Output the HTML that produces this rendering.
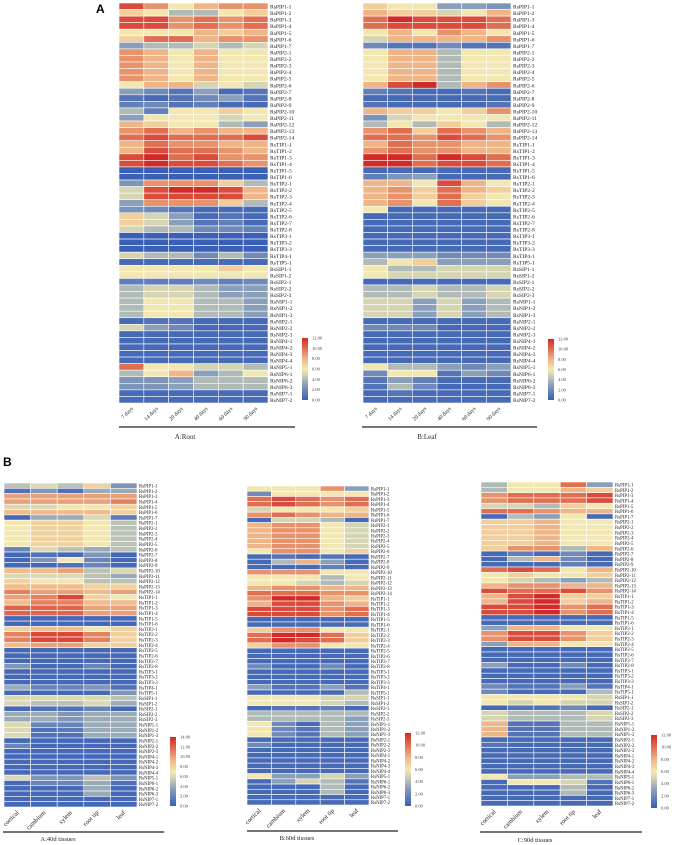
<!DOCTYPE html>
<html><head><meta charset="utf-8">
<style>
html,body{margin:0;padding:0;background:#fff;}
svg{display:block;font-family:"Liberation Serif",serif;}
</style></head>
<body>
<svg id="fig" width="675" height="845" viewBox="0 0 675 845" xmlns="http://www.w3.org/2000/svg">
<text x="96" y="13" font-family="Liberation Sans, sans-serif" font-weight="bold" font-size="12">A</text>
<text x="3" y="466" font-family="Liberation Sans, sans-serif" font-weight="bold" font-size="12">B</text>
<defs>
<linearGradient id="lg" x1="0" y1="1" x2="0" y2="0">
<stop offset="0" stop-color="#3a5fb6"/><stop offset="0.25" stop-color="#8a9fba"/><stop offset="0.42" stop-color="#d8d6b2"/><stop offset="0.5" stop-color="#f3e7b1"/><stop offset="0.67" stop-color="#efb486"/><stop offset="0.83" stop-color="#e06f52"/><stop offset="1" stop-color="#d22a27"/>
</linearGradient>
</defs>
</svg>
<script>
const genes=["RsPIP1-1","RsPIP1-2","RsPIP1-3","RsPIP1-4","RsPIP1-5","RsPIP1-6","RsPIP1-7","RsPIP2-1","RsPIP2-2","RsPIP2-3","RsPIP2-4","RsPIP2-5","RsPIP2-6","RsPIP2-7","RsPIP2-8","RsPIP2-9","RsPIP2-10","RsPIP2-11","RsPIP2-12","RsPIP2-13","RsPIP2-14","RsTIP1-1","RsTIP1-2","RsTIP1-3","RsTIP1-4","RsTIP1-5","RsTIP1-6","RsTIP2-1","RsTIP2-2","RsTIP2-3","RsTIP2-4","RsTIP2-5","RsTIP2-6","RsTIP2-7","RsTIP2-8","RsTIP3-1","RsTIP3-2","RsTIP3-3","RsTIP4-1","RsTIP5-1","RsSIP1-1","RsSIP1-2","RsSIP2-1","RsSIP2-2","RsSIP2-3","RsNIP1-1","RsNIP1-2","RsNIP1-3","RsNIP2-1","RsNIP2-2","RsNIP2-3","RsNIP4-1","RsNIP4-2","RsNIP4-3","RsNIP4-4","RsNIP5-1","RsNIP6-1","RsNIP6-2","RsNIP6-3","RsNIP7-1","RsNIP7-2"];
const days=["7 days","14 days","20 days","40 days","60 days","90 days"];
const tissues=["cortical","cambium","xylem","root tip","leaf"];
const ticks12=["12.00","10.00","8.00","6.00","4.00","2.00","0.00"];
const ticks14=["14.00","12.00","10.00","8.00","6.00","4.00","2.00","0.00"];
const z=0.5;
const rootVals=[[11,9,6,8,9,9],[7,6,4,4,6,7],[11,11,9,10,9,10],[11,11,9,10,9,10],[6,6,6,8,7,8],[7,10,10,8,9,9],[3,4,4,5,4,5],[9,8,6,8,6,6],[9,8,6,8,6,6],[9,8,6,8,6,6],[9,8,6,8,6,6],[9,8,6,8,6,6],[6,8,8,5,6,5],[3,2,1,3,z,1],[1,z,1,2,3,1],[1.5,2,1,1.5,z,z],[4,1.5,6,6,7,6],[3,6,6,6,5,6],[8,7,6,6,4,3],[9,10,8,9,8,8],[10,11,10,10,10,11],[8,10,9,9,8,8],[8,11,10,10,9,8],[11,12,10,11,9,9],[11,12,11,11,10,9],[0,0,0,0,0,0],[0,0,0,0,0,0],[2.5,9,9,9,7,4],[5,11,12,12,11,8],[5,11,11,11,11,8],[3,9,9,9,7,4],[2.5,2,1,z,z,z],[7,5,3,z,1,z],[7,5,3,1,1.5,z],[5,4,4,2,2,1.5],[0,0,0,0,0,0],[0,0,0,0,0,0],[0,0,0,0,0,0],[5,4,4,2,4,2],[z,z,z,z,z,z],[6,6,6,6,7,6],[6,6,6,6,6,6],[1.5,1.5,1.5,2,1.5,2],[4,5,5,4,3,3],[4,5,5,4,3,3],[4,6,6,4,4,3],[4,6,6,4,4,3],[4,6,6,4,4,3],[z,1,1,z,z,z],[5,3,2,z,z,z],[z,z,z,z,z,z],[z,z,z,z,z,z],[z,z,z,z,z,z],[z,z,z,z,z,z],[z,z,z,z,z,z],[10,6,6,5,5,4],[4,6,8,3,4,6],[2.5,2.5,3,4,4,4],[2.5,2.5,3,4,4,4],[z,z,z,z,z,z],[z,z,z,z,z,z]];
const leafVals=[[7,6,6,3,3,2.5],[8,7,7,5,6,8],[10,12,11,11,11,10],[10,11,11,11,11,10],[6,8,6,9,8,6],[5,8,8,8,8,9],[2,1,1,2,1,1],[6,8,8,4,6,6],[6,8,8,4,6,6],[6,8,8,4,6,6],[6,8,8,4,6,6],[6,8,8,4,6,6],[8,11,12,4,8,9],[1.5,1,z,z,1,z],[z,z,z,z,z,z],[1,z,z,z,z,1],[8,7,7,6,7,9],[2.5,5,6,6,6,6],[4,6,4,7,6,4],[9,10,7,10,9,8],[10,10,9,11,10,9],[8,10,9,9,8,8],[9,10,9,9,8,8],[12,12,10,12,11,10],[12,12,10,11,11,10],[z,z,z,z,z,z],[1.5,2.5,3,z,z,z],[8,8,6,11,8,6],[8,9,7,10,8,7],[8,9,7,10,7,6],[8,9,6,10,7,6],[6,z,z,z,z,z],[z,z,z,z,z,z],[z,z,z,z,z,z],[z,z,z,z,z,z],[z,z,z,z,z,z],[z,z,z,z,z,z],[z,z,z,z,z,z],[3,3,3,2,2,2],[4,6,7,3,3,3],[6,4,4,5,5,5],[6,5,5,5,5,5],[z,z,z,z,z,z],[4,4,5,4,4,5],[4,4,5,4,4,5],[5,5,3,5,3,4],[5,5,3,5,3,4],[5,5,3,5,3,4],[z,z,z,z,z,z],[2,2,2,z,z,z],[z,z,z,z,z,z],[z,z,z,z,z,z],[z,z,z,z,z,z],[z,z,z,z,z,z],[z,z,z,z,z,z],[6,4,4,3,2,3],[2,6,6,1,3,2],[1,3,1.5,z,z,z],[1,4,2,z,z,z],[z,1,z,z,z,z],[z,z,z,z,z,z]];
const t40Vals=[[5,6,5,8,3],[1,3,1,4,4],[10,10,10,10,10],[10,10,10,10,11],[6,6,7,7,8],[9,9,9,9,8],[z,4,4,6,1.5],[7,8,8,7,5],[7,8,8,7,5],[7,8,8,7,5],[7,8,8,7,5],[7,8,8,7,5],[2,6,5,4,5],[z,1,z,3,z],[z,3,7,2,z],[z,z,1,2,z],[9,9,10,5,6],[6,6,6,5,4],[8,7,7,5,5],[9,9,9,8,8],[11,10,10,9,10],[10,11,13,8,7],[9,11,11,9,9],[12,12,12,10,10],[12,12,12,10,10],[z,z,z,z,z],[z,z,z,z,z],[8,9,9,7,8],[11,13,13,11,8],[11,13,13,11,8],[9,10,10,8,8],[z,z,z,z,z],[z,z,z,z,z],[z,z,z,z,z],[3,z,z,2,z],[z,z,z,z,z],[z,z,z,z,z],[z,z,z,z,z],[4,2,2,3,1],[z,z,z,z,3],[6,6,6,6,5],[6,5,5,6,4],[z,1,1,2,z],[4,4,3,4,4],[4,4,3,4,4],[6,2,2,4,4],[6,1,1.5,4,4],[6,1,1,4,4],[z,z,z,z,z],[2,z,z,z,z],[z,z,z,z,z],[z,z,z,z,z],[z,z,z,z,z],[z,z,z,z,z],[z,z,z,z,z],[6,3,3,5,3],[z,2,2,4,1],[z,z,z,4,z],[z,z,z,4,z],[z,z,z,z,z],[z,z,z,z,z]];
const t60Vals=[[6,6,6,9,3],[2,6,6,6,6],[10,11,10,9,10],[10,11,10,9,10],[5,6,6,6,7],[9,10,9,8,8],[z,5,5,4,z],[8,9,9,6,5],[8,9,9,6,5],[8,9,9,6,5],[8,9,9,6,5],[8,9,9,6,5],[6,9,9,6,7],[z,1,z,1,z],[z,4,8,3,z],[z,z,z,1.5,z],[9,9,9,6,6],[6,6,6,4,6],[6,6,5,4,5],[8,9,9,8,8],[10,10,10,9,9],[9,12,12,8,7],[8,11,11,9,8],[11,11,11,9,10],[11,11,11,9,10],[z,z,z,z,z],[z,z,z,z,z],[7,9,9,6,6],[10,12,12,10,7],[10,12,11,10,7],[7,9,9,6,6],[z,z,z,z,z],[z,z,z,z,z],[z,z,z,z,z],[2,z,z,2,z],[z,z,z,z,z],[z,z,z,z,z],[z,z,z,z,z],[3,1,1,3,1],[z,z,z,z,4],[6,6,6,5,5],[6,6,6,5,4],[z,1,1,1.5,z],[4,4,4,4,4],[4,4,4,4,3],[6,2,z,4,3],[6,2,1,4,3],[6,2,1,4,3],[z,z,z,z,z],[2,z,z,z,z],[z,z,z,z,z],[z,z,z,z,z],[z,z,z,z,z],[z,z,z,z,z],[z,z,z,z,z],[6,3,3,5,3],[z,3,5,4,1],[z,z,z,4,z],[z,z,z,4,z],[z,z,z,z,z],[z,z,z,z,z]];
const t90Vals=[[4,6,6,10,3],[4,6,6,8,7],[9,10,10,10,11],[9,10,10,10,11],[5,5,4,7,6],[10,10,9,8,8],[z,4,3,6,z],[7,7,8,6,6],[7,7,8,6,6],[7,7,8,6,6],[7,7,8,6,6],[7,7,8,6,6],[7,9,9,4,8],[z,1.5,z,2,z],[z,4,8,2,z],[z,z,z,1.5,z],[10,11,10,6,8],[6,7,6,6,7],[6,5,4,3,4],[8,9,9,8,8],[11,10,10,11,9],[8,11,12,7,7],[8,11,12,7,8],[11,11,12,9,10],[11,11,12,9,10],[z,z,z,z,z],[z,z,z,z,z],[3,8,8,6,6],[9,11,11,9,7],[9,11,11,9,7],[3,8,8,6,6],[z,z,z,z,z],[z,z,z,z,z],[z,z,z,z,z],[3,z,z,2,z],[z,z,z,z,z],[z,z,z,z,z],[z,z,z,z,z],[2,1,1,3,1],[2,z,z,z,4],[6,6,6,6,5],[6,5,6,5,5],[z,1,1,2,z],[5,4,4,4,5],[5,4,4,4,5],[8,1,1,4,4],[8,1,1,4,4],[8,1,1,4,4],[z,z,z,z,z],[1,z,z,z,z],[z,z,z,z,z],[z,z,z,z,z],[z,z,z,z,z],[z,z,z,z,z],[z,z,z,z,z],[6,3,3,4,4],[z,6,6,5,1],[z,z,z,4,z],[z,z,z,4,z],[z,z,z,z,z],[z,z,z,z,z]];

const NS="http://www.w3.org/2000/svg";
const svg=document.getElementById('fig');
const stops=[[0,[58,95,182]],[0.25,[138,159,186]],[0.42,[216,214,178]],[0.5,[243,231,177]],[0.67,[239,180,134]],[0.83,[224,111,82]],[1,[210,42,39]]];
function color(v,max){let t=Math.max(0,Math.min(1,v/max));for(let i=1;i<stops.length;i++){if(t<=stops[i][0]){const a=stops[i-1],b=stops[i];const f=(t-a[0])/(b[0]-a[0]);const c=a[1].map((x,k)=>Math.round(x+(b[1][k]-x)*f));return `rgb(${c[0]},${c[1]},${c[2]})`;}}return 'rgb(210,42,39)';}
function mk(tag,attrs,parent){const e=document.createElementNS(NS,tag);for(const k in attrs)e.setAttribute(k,attrs[k]);(parent||svg).appendChild(e);return e;}

function heatmap(cfg){
  const g=mk('g',{});
  
  
  const nR=genes.length,nC=cfg.cols.length;
  const cw=(cfg.x1-cfg.x0)/nC,rh=(cfg.y1-cfg.y0)/nR;
  const xs=c=>cfg.x0+c*cw, ys=r=>cfg.y0+r*rh;
  cfg.data.forEach((row,r)=>row.forEach((v,c)=>{
    const rc=mk('rect',{x:xs(c),y:ys(r),width:cw,height:rh,fill:color(v,cfg.max),stroke:'#fff','stroke-width':0.6},g);
    
    
  }));
  genes.forEach((gn,r)=>{
    const t=mk('text',{x:cfg.x1+2,y:ys(r)+rh*0.85,'font-size':cfg.fs,fill:'#222'},g);
    t.textContent=gn;
    
    
  });
  cfg.cols.forEach((cn,c)=>{
    const cx=xs(c)+cw/2+2, cy=cfg.y1+6;
    const t=mk('text',{x:cx,y:cy,'font-size':cfg.cfs,'text-anchor':'end',transform:`rotate(-45 ${cx} ${cy})`,fill:'#222'},g);
    t.textContent=cn;
    
    
  });
  const ln=mk('line',{x1:cfg.ax0,x2:cfg.ax1,y1:cfg.ay,y2:cfg.ay,stroke:'#222','stroke-width':1.2},g);
  
  
  const tt=mk('text',{x:cfg.tx,y:cfg.ty,'font-size':cfg.tfs,'text-anchor':'middle',fill:'#222'},g);
  tt.textContent=cfg.title;
  
  
  const lr=mk('rect',{x:cfg.lx,y:cfg.ly0,width:6,height:cfg.ly1-cfg.ly0,fill:'url(#lg)'},g);
  
  
  const tk=cfg.ticks;
  tk.forEach((s,i)=>{
    const y=cfg.ly0+i*(cfg.ly1-cfg.ly0)/(tk.length-1)+1.5;
    const t=mk('text',{x:cfg.lx+10,y:y,'font-size':4.5,fill:'#444'},g);
    t.textContent=s;
    
    
  });
}
heatmap({name:'root-heatmap',data:rootVals,cols:days,max:12,x0:119,x1:268,y0:3,y1:403,fs:5.6,cfs:5.5,ax0:119,ax1:295,ay:427,title:'A:Root',tx:185,ty:439,tfs:7,lx:302,ly0:338,ly1:400,ticks:ticks12});
heatmap({name:'leaf-heatmap',data:leafVals,cols:days,max:12,x0:363,x1:511,y0:3,y1:403,fs:5.6,cfs:5.5,ax0:362,ax1:537,ay:427,title:'B:Leaf',tx:427,ty:439,tfs:7,lx:548,ly0:339,ly1:400,ticks:ticks12});
heatmap({name:'tissues-40d-heatmap',data:t40Vals,cols:tissues,max:14,x0:4,x1:137,y0:483,y1:807,fs:4.8,cfs:6.5,ax0:3,ax1:164,ay:832,title:'A:40d tissues',tx:58,ty:841,tfs:6.5,lx:170,ly0:737,ly1:806,ticks:ticks14});
heatmap({name:'tissues-60d-heatmap',data:t60Vals,cols:tissues,max:12,x0:247,x1:369,y0:486,y1:805,fs:4.8,cfs:6.5,ax0:247,ax1:398,ay:831,title:'B:60d tissues',tx:297,ty:840,tfs:6.5,lx:405,ly0:733,ly1:806,ticks:ticks12});
heatmap({name:'tissues-90d-heatmap',data:t90Vals,cols:tissues,max:12,x0:481,x1:613,y0:482,y1:806,fs:4.8,cfs:6.5,ax0:480,ax1:642,ay:832,title:'C:90d tissues',tx:535,ty:842,tfs:6.5,lx:651,ly0:735,ly1:808,ticks:ticks12});
</script>
</body></html>
